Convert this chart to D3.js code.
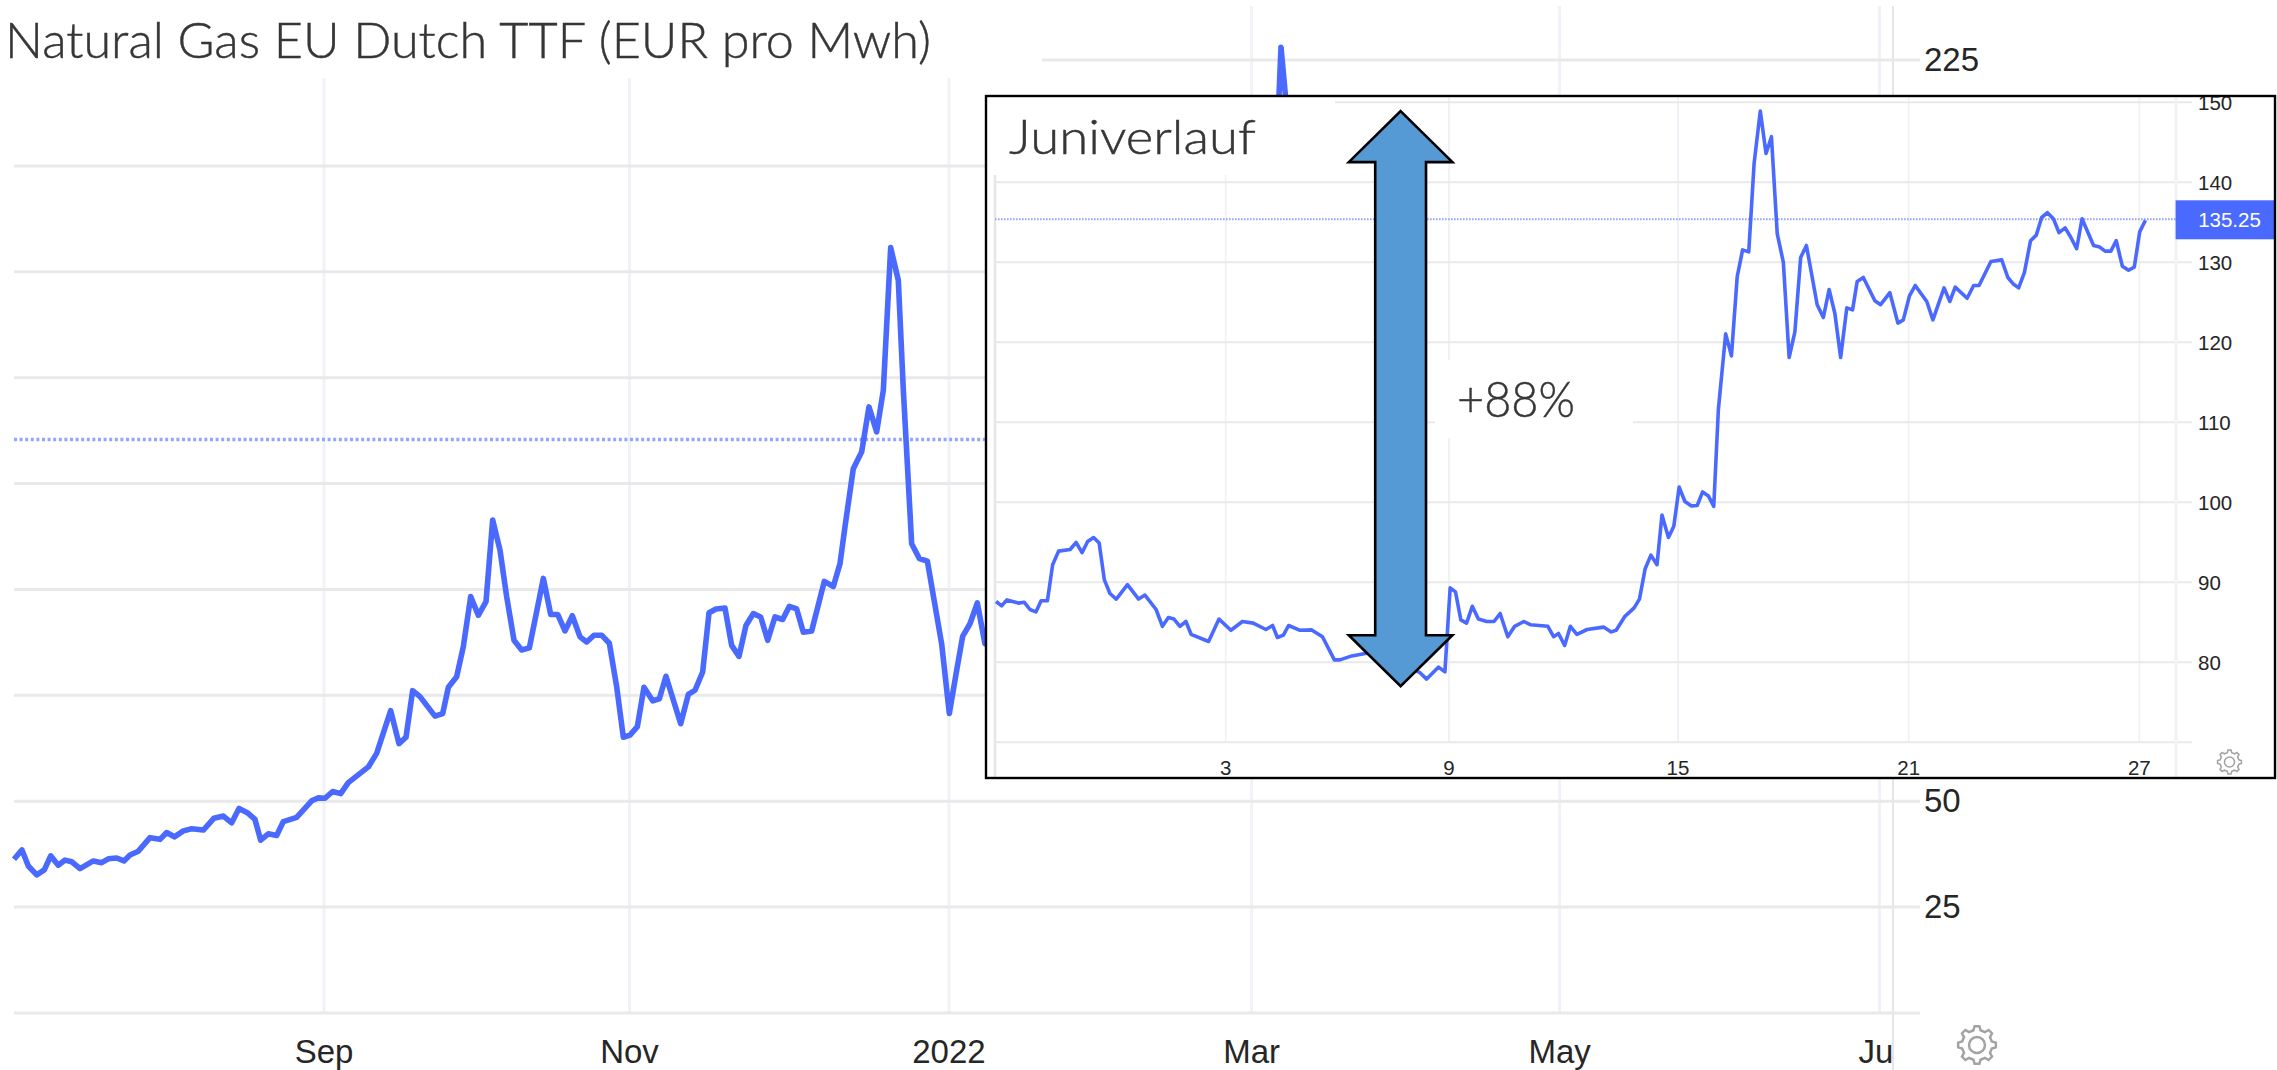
<!DOCTYPE html>
<html>
<head>
<meta charset="utf-8">
<script src="https://cdnjs.cloudflare.com/ajax/libs/d3/7.8.5/d3.min.js"></script>
<style>
html,body{margin:0;padding:0;background:#fff;overflow:hidden}
svg{display:block}
text{font-family:"Liberation Sans",Arial,sans-serif}
.deco{font-family:Lato,"Open Sans",sans-serif;font-weight:300;fill:#363636;stroke:#363636;stroke-width:.45}
</style>
</head>
<body>
<div id="chart"></div>
<script>
// ---------- 1-year chart (x = trading session since start of view) ----------
const mainSessions = [0,1.14,2.05,3.24,4.33,5.24,6.33,7.29,8.24,9.43,11.33,12.52,13.48,14.67,15.71,16.57,17.76,19.43,20.86,21.81,22.91,24.19,25.38,27.05,28.57,29.91,31.1,32.14,33.33,34.43,35.24,36.33,37.52,38.48,40.38,42.52,43.48,44.43,45.52,46.67,47.76,50.62,51.81,53.81,55,56,56.95,58,60.14,61.24,62.05,63.24,64.19,65.24,66.33,67.43,68.38,69.43,70.38,71.43,72.52,73.62,75.62,76.67,77.67,78.71,79.76,80.86,81.81,82.86,83.95,85.05,86.1,87.05,88,89.05,90,91.24,92.19,93.14,95.24,96.33,97.29,98.38,99.29,100.29,101.57,102.52,103.57,104.57,105.62,106.67,107.67,108.71,109.81,110.76,111.81,112.76,113.95,115.76,117.05,118,118.71,119.9,121.1,122.14,123.24,124.19,125.24,126.33,127.05,128.24,129.33,130.48,132.52,133.62,134.67,135.52,136.57,137.62,138.71,
 141,144,148,153,158,163,167,171,174,176,178,180,181,182,183,185,188,192,196,200,205,210,215,220,225,230,235,240,245,250,252,255,258,262,264];
const mainValues = [36.3,38.5,34.7,32.6,33.8,37.1,34.9,36.1,35.7,34.1,35.9,35.5,36.4,36.6,35.9,37.3,38.2,41.4,41,42.6,41.6,43,43.5,43.2,46,46.5,44.9,48.3,47.3,45.7,40.8,42.3,41.9,45.2,46.2,50.1,50.8,50.7,52.3,51.8,54.4,58.1,61.3,71.4,63.6,65.1,76.1,74.7,70.1,70.7,76.9,79.4,86.5,98.3,93.9,97.1,116.4,109.3,98.3,88,85.7,86.2,102.6,94.1,94.1,90.2,93.8,88.8,87.6,89.2,89.2,87.3,77,65.1,65.6,67.6,76.9,73.7,74.2,79.5,68.3,75.2,76.2,80.5,94.5,95.4,95.6,86.8,84.2,91.5,94.3,93.5,88,93.5,92.9,96,95.4,89.9,90.2,101.9,100.7,106.1,114.8,128.5,132.5,143.1,137.2,147,180.7,173,147,110.8,107.3,106.7,87.2,70.7,80.9,88.9,91.9,96.8,87.2,
 85,78,80,75,72,80,76,84,100,125,130,188,228,210,160,135,115,120,108,105,100,105,98,100,95,90,85,90,85,85,120,135,125,130,135.25];
const mainLast = 135.25;
const mainGridValues = [0,25,50,75,100,125,150,175,200,225];
const mainYLabels = [225,50,25];
const mainTickSessions = [44.29,87.93,133.57,176.8,220.8,266.5];
const mainTickLabels = ["Sep","Nov","2022","Mar","May","Jul"];

// ---------- June inset (x = day of month) ----------
const juneDays = [-3.17,-3.02,-2.88,-2.57,-2.41,-2.26,-2.1,-1.96,-1.79,-1.65,-1.49,-1.18,-1.02,-0.86,-0.71,-0.55,-0.4,-0.26,-0.11,0.06,0.36,0.66,0.83,1.13,1.3,1.46,1.61,1.77,1.93,2.07,2.54,2.82,3.14,3.45,3.74,4.08,4.26,4.39,4.55,4.69,5,5.31,5.6,5.92,6.07,6.39,6.75,7.2,7.7,8.09,8.22,8.4,8.72,8.89,9.03,9.17,9.31,9.46,9.61,9.77,9.99,10.18,10.34,10.54,10.72,10.96,11.13,11.59,11.74,11.87,12.03,12.18,12.35,12.62,13.05,13.25,13.38,13.61,13.85,13.99,14.14,14.29,14.45,14.58,14.75,14.89,15.03,15.18,15.35,15.5,15.64,15.79,15.93,16.05,16.09,16.24,16.39,16.54,16.68,16.84,16.98,17.14,17.29,17.43,17.58,17.74,17.89,18.04,18.19,18.34,18.62,18.78,18.93,19.08,19.23,19.39,19.54,19.66,19.82,20.12,20.27,20.51,20.72,20.86,21.02,21.17,21.47,21.63,21.92,22.07,22.21,22.52,22.69,22.83,23.14,23.42,23.58,23.73,23.86,24.01,24.17,24.32,24.46,24.61,24.77,24.91,25.07,25.21,25.37,25.51,25.81,25.97,26.11,26.26,26.4,26.56,26.72,26.87,27.01,27.16];
const juneValues = [87.6,87.05,87.8,87.4,87.5,86.6,86.3,87.7,87.7,92.2,93.9,94.1,95,93.7,95.1,95.6,94.9,90.3,88.6,87.9,89.7,87.9,88.4,86.6,84.5,85.6,85.4,84.5,85.1,83.5,82.6,85.4,84,85.1,84.9,84.1,84.6,83.1,83.4,84.6,84,84.05,83.2,80.3,80.3,80.8,81.1,81.4,80,79,78.7,77.9,79.4,78.8,89.3,88.8,85.3,84.9,87,85.4,85.1,85.1,86.1,83.2,84.5,85.1,84.7,84.5,83.2,83.6,82.1,84.5,83.5,84.1,84.4,83.8,84,85.75,86.8,87.9,91.7,93.4,92.2,98.4,95.6,97,101.9,100.1,99.55,99.6,101.3,100.8,99.5,111.6,113.6,121.05,118.3,128.2,131.55,131.3,142.4,148.9,143.6,145.7,133.6,130,118.1,121.3,130.6,132.1,124.7,123.1,126.6,123.6,118.1,124.3,124.05,127.6,128.1,125.2,124.7,126.2,122.4,122.8,125.8,127.1,125.1,122.8,126.8,125.1,126.9,125.5,127.1,127.1,130.1,130.3,128.1,127.25,126.8,128.7,132.7,133.4,135.6,136.2,135.4,133.7,134.3,133.2,131.7,135.45,132.1,131.9,131.4,131.4,132.7,129.5,129,129.4,133.8,135.25];
const juneLast = 135.25;
const juneGridValues = [70,80,90,100,110,120,130,140,150];
const juneYLabels = [80,90,100,110,120,130,140,150];
const juneTickDays = [3,9,15,21,27];
const arrowDay = 7.7, arrowHigh = 148.9, arrowLow = 77.0;

const W = 2277, H = 1070, BLUE = "#4a69ff", DOT = "#93a6fb";
const GRID = "#e9e9e9", VGRID = "#eff3f7", LABEL = "#262626";

const svg = d3.select("#chart").append("svg").attr("width", W).attr("height", H);
const defs = svg.append("defs");
defs.append("clipPath").attr("id","mainClip").append("rect").attr("x",0).attr("y",0).attr("width",1893).attr("height",H);
defs.append("clipPath").attr("id","insetClip").append("rect").attr("x",986).attr("y",96).attr("width",1289).attr("height",682);
defs.append("filter").attr("id","soft")
  .attr("filterUnits","userSpaceOnUse").attr("x",0).attr("y",0).attr("width",W).attr("height",H)
  .append("feGaussianBlur").attr("stdDeviation",0.6);

// ---------- main chart ----------
const mx = d3.scaleLinear().domain([0,268.43]).range([14,1893]);
const my = d3.scaleLinear().domain([0,225]).range([1013,60]);
const main = svg.append("g");

main.selectAll(".vg").data(mainTickSessions).join("line")
  .attr("x1",d=>mx(d)).attr("x2",d=>mx(d)).attr("y1",6).attr("y2",1013)
  .attr("stroke",VGRID).attr("stroke-width",3);
main.append("line").attr("x1",1893).attr("x2",1893).attr("y1",6).attr("y2",H)
  .attr("stroke","#e3e5e8").attr("stroke-width",2);
main.selectAll(".hg").data(mainGridValues).join("line")
  .attr("x1",14).attr("x2",1920).attr("y1",d=>my(d)).attr("y2",d=>my(d))
  .attr("stroke",GRID).attr("stroke-width",3);
main.append("line").attr("x1",14).attr("x2",1893).attr("y1",my(mainLast)-0.6).attr("y2",my(mainLast)-0.6)
  .attr("stroke",DOT).attr("stroke-width",3.4).attr("stroke-dasharray","3 2.6");
main.append("path")
  .attr("d",d3.line().x(d=>mx(d[0])).y(d=>my(d[1]))(d3.zip(mainSessions,mainValues)))
  .attr("fill","none").attr("stroke",BLUE).attr("stroke-width",5.6).attr("stroke-linejoin","round")
  .attr("filter","url(#soft)");

// white block behind the title
main.append("rect").attr("x",0).attr("y",0).attr("width",1042).attr("height",78).attr("fill","#fff");

main.selectAll(".yl").data(mainYLabels).join("text")
  .attr("x",1924).attr("y",d=>my(d)+11).attr("font-size",33).attr("fill",LABEL).text(d=>d);
main.append("g").attr("clip-path","url(#mainClip)")
  .selectAll("text").data(mainTickSessions).join("text")
  .attr("x",d=>mx(d)).attr("y",1063).attr("text-anchor","middle").attr("font-size",33).attr("fill",LABEL)
  .text((d,i)=>mainTickLabels[i]);

function gear(g,cx,cy,r){
  const n=8, pts=[];
  for(let i=0;i<n;i++){
    const a=i/n*2*Math.PI, s=2*Math.PI/n;
    [[-.30,.80],[-.16,1],[.16,1],[.30,.80]].forEach(([o,k])=>{
      const t=a+o*s; pts.push([cx+r*k*Math.sin(t),cy-r*k*Math.cos(t)]);
    });
  }
  g.append("path").attr("d","M"+pts.map(p=>p.join(",")).join("L")+"Z")
    .attr("fill","none").attr("stroke","#a3a3a3").attr("stroke-width",r*0.13);
  g.append("circle").attr("cx",cx).attr("cy",cy).attr("r",r*0.42)
    .attr("fill","none").attr("stroke","#a3a3a3").attr("stroke-width",r*0.13);
}
gear(main,1977,1045,19);

svg.append("text").attr("class","deco").attr("x",5).attr("y",58)
  .attr("font-size",50).attr("textLength",926).attr("lengthAdjust","spacingAndGlyphs")
  .text("Natural Gas EU Dutch TTF (EUR pro Mwh)");

// ---------- inset ----------
const ix = d3.scaleLinear().domain(juneTickDays).range([1225.7,1449,1678,1908.7,2139.3]);
const iy = d3.scaleLinear().domain([70,150]).range([742.3,102.3]);
const inset = svg.append("g");
inset.append("rect").attr("x",986).attr("y",96).attr("width",1289).attr("height",682)
  .attr("fill","#fff");
const ic = inset.append("g").attr("clip-path","url(#insetClip)");

ic.selectAll(".vg").data(juneTickDays).join("line")
  .attr("x1",d=>ix(d)).attr("x2",d=>ix(d)).attr("y1",96).attr("y2",742)
  .attr("stroke",VGRID).attr("stroke-width",2);
ic.append("line").attr("x1",995).attr("x2",995).attr("y1",175).attr("y2",778)
  .attr("stroke","#e6e6e6").attr("stroke-width",2.5);
ic.selectAll(".hg").data(juneGridValues).join("line")
  .attr("x1",995).attr("x2",2192).attr("y1",d=>iy(d)).attr("y2",d=>iy(d))
  .attr("stroke",GRID).attr("stroke-width",2);
ic.append("line").attr("x1",2176).attr("x2",2176).attr("y1",96).attr("y2",778)
  .attr("stroke","#f1f2f3").attr("stroke-width",3);

// white blocks behind the pasted labels
ic.append("rect").attr("x",986).attr("y",96).attr("width",349).attr("height",79).attr("fill","#fff");
ic.append("rect").attr("x",1435).attr("y",360).attr("width",198).attr("height",78).attr("fill","#fff");

ic.append("line").attr("x1",995).attr("x2",2176).attr("y1",iy(juneLast)-1).attr("y2",iy(juneLast)-1)
  .attr("stroke",DOT).attr("stroke-width",2).attr("stroke-dasharray","1.6 1.4");
ic.append("path")
  .attr("d",d3.line().x(d=>ix(d[0])).y(d=>iy(d[1]))(d3.zip(juneDays,juneValues)))
  .attr("fill","none").attr("stroke",BLUE).attr("stroke-width",3.6).attr("stroke-linejoin","round")
  .attr("filter","url(#soft)");

ic.selectAll(".yl").data(juneYLabels).join("text")
  .attr("x",2198).attr("y",d=>iy(d)+7.5).attr("font-size",20.5).attr("fill",LABEL).text(d=>d);
ic.selectAll(".xl").data(juneTickDays).join("text")
  .attr("x",d=>ix(d)).attr("y",774.5).attr("text-anchor","middle").attr("font-size",20.5).attr("fill",LABEL).text(d=>d);

ic.append("rect").attr("x",2175.6).attr("y",iy(juneLast)-20).attr("width",99).attr("height",39).attr("fill",BLUE);
ic.append("text").attr("x",2229.5).attr("y",iy(juneLast)+7).attr("text-anchor","middle")
  .attr("font-size",20.5).attr("fill","#fff").text(juneLast.toFixed(2));
gear(ic,2229.5,762,12);

// double arrow
const ac = ix(arrowDay), at = iy(arrowHigh), ab = iy(arrowLow);
const hw = 51.8, sw = 25.4, hh = 51;
inset.append("path")
  .attr("d",d3.line()([[ac,at],[ac+hw,at+hh],[ac+sw,at+hh],[ac+sw,ab-hh],[ac+hw,ab-hh],[ac,ab],[ac-hw,ab-hh],[ac-sw,ab-hh],[ac-sw,at+hh],[ac-hw,at+hh]])+"Z")
  .attr("fill","#5599d5").attr("stroke","#000").attr("stroke-width",2.6).attr("stroke-linejoin","miter");

inset.append("rect").attr("x",986).attr("y",96).attr("width",1289).attr("height",682)
  .attr("fill","none").attr("stroke","#000").attr("stroke-width",2.4);

inset.append("text").attr("class","deco").attr("x",1009).attr("y",153.5)
  .attr("font-size",47).attr("textLength",247).attr("lengthAdjust","spacingAndGlyphs").text("Juniverlauf");
inset.append("text").attr("class","deco").attr("x",1457).attr("y",416.5)
  .attr("font-size",50).attr("textLength",118).attr("lengthAdjust","spacingAndGlyphs").text("+88%");
</script>
</body>
</html>
